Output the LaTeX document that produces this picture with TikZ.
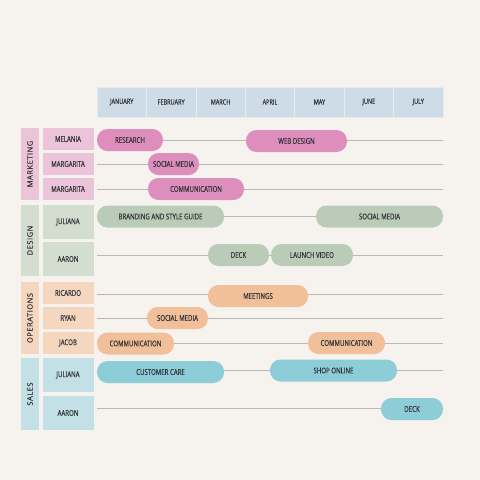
\documentclass[tikz,border=0pt]{standalone}
\usepackage{fontspec}
\setmainfont[FakeStretch=0.76, FakeBold=0.35]{Open Sans}
\newfontfamily\catfont[LetterSpace=7, FakeBold=0.35]{Open Sans}
\usepackage{tikz}
\definecolor{paper}{RGB}{246, 242, 238}
\definecolor{ink}{RGB}{52, 52, 56}
\definecolor{rail}{RGB}{190, 184, 180}
\definecolor{head}{RGB}{206, 220, 231}
\definecolor{mklight}{RGB}{236, 196, 217}
\definecolor{mkdark}{RGB}{222, 142, 188}
\definecolor{dslight}{RGB}{212, 222, 208}
\definecolor{dsdark}{RGB}{186, 204, 183}
\definecolor{oplight}{RGB}{245, 215, 192}
\definecolor{opdark}{RGB}{241, 191, 153}
\definecolor{salight}{RGB}{194, 224, 229}
\definecolor{sadark}{RGB}{141, 205, 216}

\begin{document}
\begin{tikzpicture}[x=1pt, y=-1pt, text=ink,
  month/.style={fill=head, draw=head!55!white, line width=0.6pt, minimum width=49.43pt,
    minimum height=30pt, inner sep=0pt, font=\fontsize{7.3}{8}\selectfont},
  dept/.style={rotate=90, minimum height=18pt, inner sep=0pt, font=\catfont\fontsize{7.5}{8}\selectfont},
  who/.style={minimum width=51pt, inner sep=0pt, font=\fontsize{8}{9}\selectfont},
  task/.style={rounded corners=10.5pt, minimum height=22pt, inner sep=0pt,
    font=\fontsize{8}{9}\selectfont},
  track/.style={rail, line width=0.9pt}]

  \fill[paper] (0, 0) rectangle (480, 480);

  % months
  \foreach \mon [count=\i] in {JANUARY, FEBRUARY, MARCH, APRIL, MAY, JUNE, JULY}
    \node[month] (m\i) at ({97 + 49.43 * (\i - 0.5)}, 102) {\mon};

  % departments
  \node[dept, fill=mklight, minimum width=72pt] (marketing) at (30, 164) {MARKETING};
  \node[dept, fill=dslight, minimum width=71pt] (design) at (30, 240.5) {DESIGN};
  \node[dept, fill=oplight, minimum width=72pt] (operations) at (30, 318) {OPERATIONS};
  \node[dept, fill=salight, minimum width=72pt] (sales) at (30, 394) {SALES};

  % people
  \node[who, fill=mklight, minimum height=22pt] (melania) at (68, 139) {MELANIA};
  \node[who, fill=mklight, minimum height=22pt] (margarita) at (68, 164) {MARGARITA};
  \node[who, fill=mklight, minimum height=22pt] (margaritab) at (68, 189) {MARGARITA};
  \node[who, fill=dslight, minimum height=34pt] (juliana) at (68, 222) {JULIANA};
  \node[who, fill=dslight, minimum height=34pt] (aaron) at (68, 259) {AARON};
  \node[who, fill=oplight, minimum height=22pt] (ricardo) at (68, 293) {RICARDO};
  \node[who, fill=oplight, minimum height=22pt] (ryan) at (68, 318) {RYAN};
  \node[who, fill=oplight, minimum height=22pt] (jacob) at (68, 343) {JACOB};
  \node[who, fill=salight, minimum height=34pt] (julianab) at (68, 375) {JULIANA};
  \node[who, fill=salight, minimum height=34pt] (aaronb) at (68, 413) {AARON};

  % tracks
  \foreach \y [count=\i] in {140, 164, 189, 216, 255, 294, 318, 343, 370, 408} {
    \coordinate (t\i) at (97, \y);
    \draw[track] (t\i) -- (t\i -| m7.east);
  }

  % tasks
  \node[task, fill=mkdark, minimum width=66pt] (research) at (130, 140) {RESEARCH};
  \node[task, fill=mkdark, minimum width=101pt] (webdesign) at (296.5, 141) {WEB DESIGN};
  \node[task, fill=mkdark, minimum width=51pt] (mksocial) at (173.5, 164) {SOCIAL MEDIA};
  \node[task, fill=mkdark, minimum width=96pt] (mkcomm) at (196, 189) {COMMUNICATION};

  \node[task, fill=dsdark, minimum width=127pt] (branding) at (160.5, 216.5) {BRANDING AND STYLE GUIDE};
  \node[task, fill=dsdark, minimum width=127pt] (dssocial) at (379.5, 216.5) {SOCIAL MEDIA};
  \node[task, fill=dsdark, minimum width=61pt] (dsdeck) at (238.5, 255) {DECK};
  \node[task, fill=dsdark, minimum width=82pt] (launch) at (312, 255) {LAUNCH VIDEO};

  \node[task, fill=opdark, minimum width=100pt] (meetings) at (258, 296) {MEETINGS};
  \node[task, fill=opdark, minimum width=61pt] (opsocial) at (177.5, 318) {SOCIAL MEDIA};
  \node[task, fill=opdark, minimum width=77pt] (opcomm) at (135.5, 343.5) {COMMUNICATION};
  \node[task, fill=opdark, minimum width=77pt] (opcommb) at (346.5, 343) {COMMUNICATION};

  \node[task, fill=sadark, minimum width=127pt] (care) at (160.5, 372) {CUSTOMER CARE};
  \node[task, fill=sadark, minimum width=127pt] (shop) at (333.5, 370.5) {SHOP ONLINE};
  \node[task, fill=sadark, minimum width=62pt] (sadeck) at (412, 409) {DECK};

\end{tikzpicture}
\end{document}
